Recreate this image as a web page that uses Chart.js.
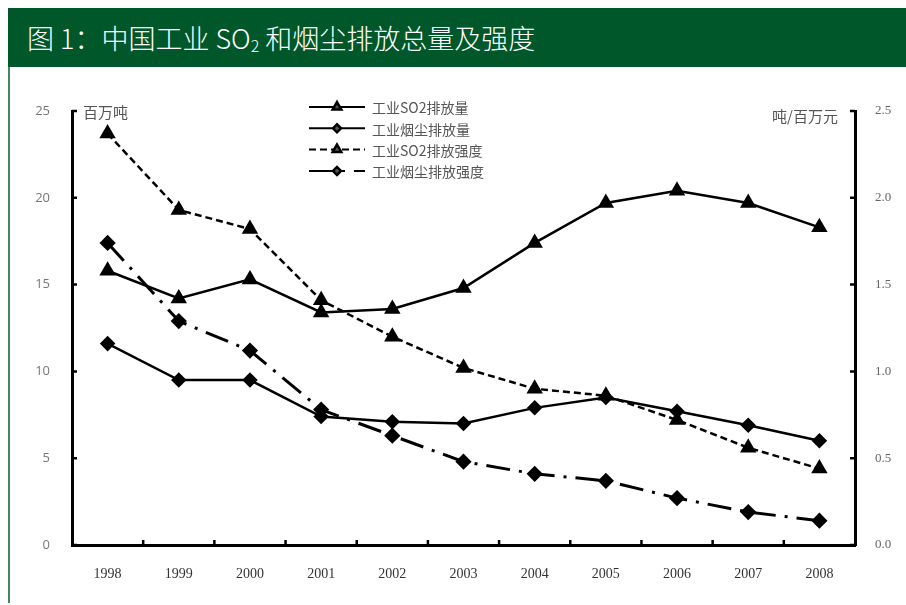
<!DOCTYPE html>
<html lang="zh-CN">
<head>
<meta charset="utf-8">
<title>中国工业 SO2 和烟尘排放总量及强度</title>
<script src="https://cdn.jsdelivr.net/npm/chart.js@4.4.1/dist/chart.umd.min.js"></script>
<style>
  html, body { margin: 0; padding: 0; background: #fff; }
  body { width: 906px; height: 605px; position: relative; overflow: hidden; }
  .head {
    position: absolute; left: 8px; top: 8px; width: 898px; height: 59px;
    background: #00582a; color: #fff;
    font-family: "Noto Sans CJK SC", "Noto Sans", sans-serif; font-weight: 300;
    font-size: 27px; line-height: 59px; padding-left: 19px; box-sizing: border-box;
    white-space: nowrap;
  }
  .head sub { font-size: 16px; vertical-align: -3px; line-height: 0; }
  .edge { position: absolute; left: 8px; top: 67px; width: 2px; height: 536px; background: #3f8a5c; }
  .wrap { position: absolute; left: 0; top: 68px; width: 906px; height: 537px; }
</style>
</head>
<body>
<div class="head">图 1：中国工业 SO<sub>2</sub> 和烟尘排放总量及强度</div>
<div class="edge"></div>
<div class="wrap"><canvas id="emissionChart"></canvas></div>
<script>
// years on the x axis
const years = ['1998', '1999', '2000', '2001', '2002', '2003', '2004', '2005', '2006', '2007', '2008'];

// totals, million tonnes (left axis)
const so2Total = [15.8, 14.2, 15.3, 13.4, 13.6, 14.8, 17.4, 19.7, 20.4, 19.7, 18.3];
const dustTotal = [11.6, 9.5, 9.5, 7.4, 7.1, 7.0, 7.9, 8.5, 7.7, 6.9, 6.0];

// intensity, tonnes per million yuan (right axis)
const so2Intensity = [2.37, 1.93, 1.82, 1.41, 1.20, 1.02, 0.90, 0.86, 0.72, 0.56, 0.44];
const dustIntensity = [1.74, 1.29, 1.12, 0.78, 0.63, 0.48, 0.41, 0.37, 0.27, 0.19, 0.14];

const seriesNames = ['工业SO2排放量', '工业烟尘排放量', '工业SO2排放强度', '工业烟尘排放强度'];
const leftTicks = [0, 5, 10, 15, 20, 25];
const rightTicks = [0, 0.5, 1.0, 1.5, 2.0, 2.5];

const cjk = '"Noto Sans CJK SC", sans-serif';
const serif = '"Liberation Serif", "DejaVu Serif", serif';

// inward tick marks, unit captions and the little legend box
const decorations = {
    id: 'decorations',
    afterDatasetsDraw(chart) {
        const { ctx, chartArea: area, scales } = chart;
        ctx.save();
        ctx.strokeStyle = '#000';
        ctx.lineWidth = 2.5;
        ctx.beginPath();
        leftTicks.forEach(v => {
            const y = scales.y.getPixelForValue(v);
            ctx.moveTo(area.left, y);
            ctx.lineTo(area.left + 5, y);
        });
        rightTicks.forEach(v => {
            const y = scales.y1.getPixelForValue(v);
            ctx.moveTo(area.right, y);
            ctx.lineTo(area.right - 5, y);
        });
        for (let i = 0; i < years.length - 1; i++) {
            const x = (scales.x.getPixelForValue(i) + scales.x.getPixelForValue(i + 1)) / 2;
            ctx.moveTo(x, area.bottom);
            ctx.lineTo(x, area.bottom - 5);
        }
        ctx.stroke();

        // unit captions
        ctx.fillStyle = '#555';
        ctx.font = '15px ' + cjk;
        ctx.textBaseline = 'middle';
        ctx.textAlign = 'left';
        ctx.fillText('百万吨', area.left + 11, area.top + 1);
        ctx.textAlign = 'right';
        ctx.fillText('吨/百万元', area.right - 17, area.top + 5);

        // legend
        const lx = 309, lw = 56;
        chart.data.datasets.forEach((ds, i) => {
            const y = 39 + i * 21.3;
            ctx.save();
            ctx.strokeStyle = '#000';
            ctx.lineWidth = 2;
            ctx.setLineDash(ds.borderDash || []);
            ctx.beginPath();
            ctx.moveTo(lx, y);
            ctx.lineTo(lx + lw, y);
            ctx.stroke();
            ctx.restore();
            Chart.helpers.drawPoint(ctx, {
                pointStyle: ds.pointStyle,
                radius: ds.pointStyle === 'triangle' ? 5 : 4,
                borderWidth: 1
            }, lx + lw / 2, y);
            ctx.fillStyle = '#555';
            ctx.font = '14px ' + cjk;
            ctx.textAlign = 'left';
            ctx.fillText(ds.label, lx + lw + 7, y + 1);
        });
        ctx.restore();
    }
};

const baseSet = {
    borderColor: '#000',
    backgroundColor: '#000',
    pointBackgroundColor: '#000',
    pointBorderColor: '#000',
    borderWidth: 2.5,
    tension: 0,
    fill: false
};

new Chart(document.getElementById('emissionChart'), {
    type: 'line',
    data: {
        labels: years,
        datasets: [
            { ...baseSet, label: seriesNames[0], data: so2Total, yAxisID: 'y',
              pointStyle: 'triangle', pointRadius: 7 },
            { ...baseSet, label: seriesNames[1], data: dustTotal, yAxisID: 'y',
              pointStyle: 'rectRot', pointRadius: 6 },
            { ...baseSet, label: seriesNames[2], data: so2Intensity, yAxisID: 'y1',
              borderDash: [7, 4], pointStyle: 'triangle', pointRadius: 7 },
            { ...baseSet, label: seriesNames[3], data: dustIntensity, yAxisID: 'y1',
              borderWidth: 3, borderDash: [24, 9, 3, 9], pointStyle: 'rectRot', pointRadius: 6 }
        ]
    },
    options: {
        responsive: true,
        maintainAspectRatio: false,
        animation: false,
        layout: { padding: { top: 43, left: 0, right: 0, bottom: 0 } },
        plugins: {
            legend: { display: false },
            tooltip: { enabled: false }
        },
        scales: {
            x: {
                offset: true,
                grid: { display: false, drawTicks: false },
                border: { display: true, width: 3, color: '#000' },
                ticks: { color: '#333', font: { family: serif, size: 14 }, padding: 21, maxRotation: 0 },
                afterFit(scale) { scale.height = 60; }
            },
            y: {
                position: 'left',
                min: 0,
                max: 25,
                grid: { display: false, drawTicks: false },
                border: { display: true, width: 3, color: '#000' },
                ticks: { stepSize: 5, color: '#777', font: { family: '"Open Sans", sans-serif', size: 13 }, padding: 22 },
                afterFit(scale) { scale.width = 72; }
            },
            y1: {
                position: 'right',
                min: 0,
                max: 2.5,
                grid: { display: false, drawTicks: false },
                border: { display: true, width: 3, color: '#000' },
                ticks: {
                    stepSize: 0.5, color: '#666', font: { family: serif, size: 13 }, padding: 20,
                    callback: v => v.toFixed(1)
                },
                afterFit(scale) { scale.width = 51; }
            }
        }
    },
    plugins: [decorations]
});
</script>
</body>
</html>
